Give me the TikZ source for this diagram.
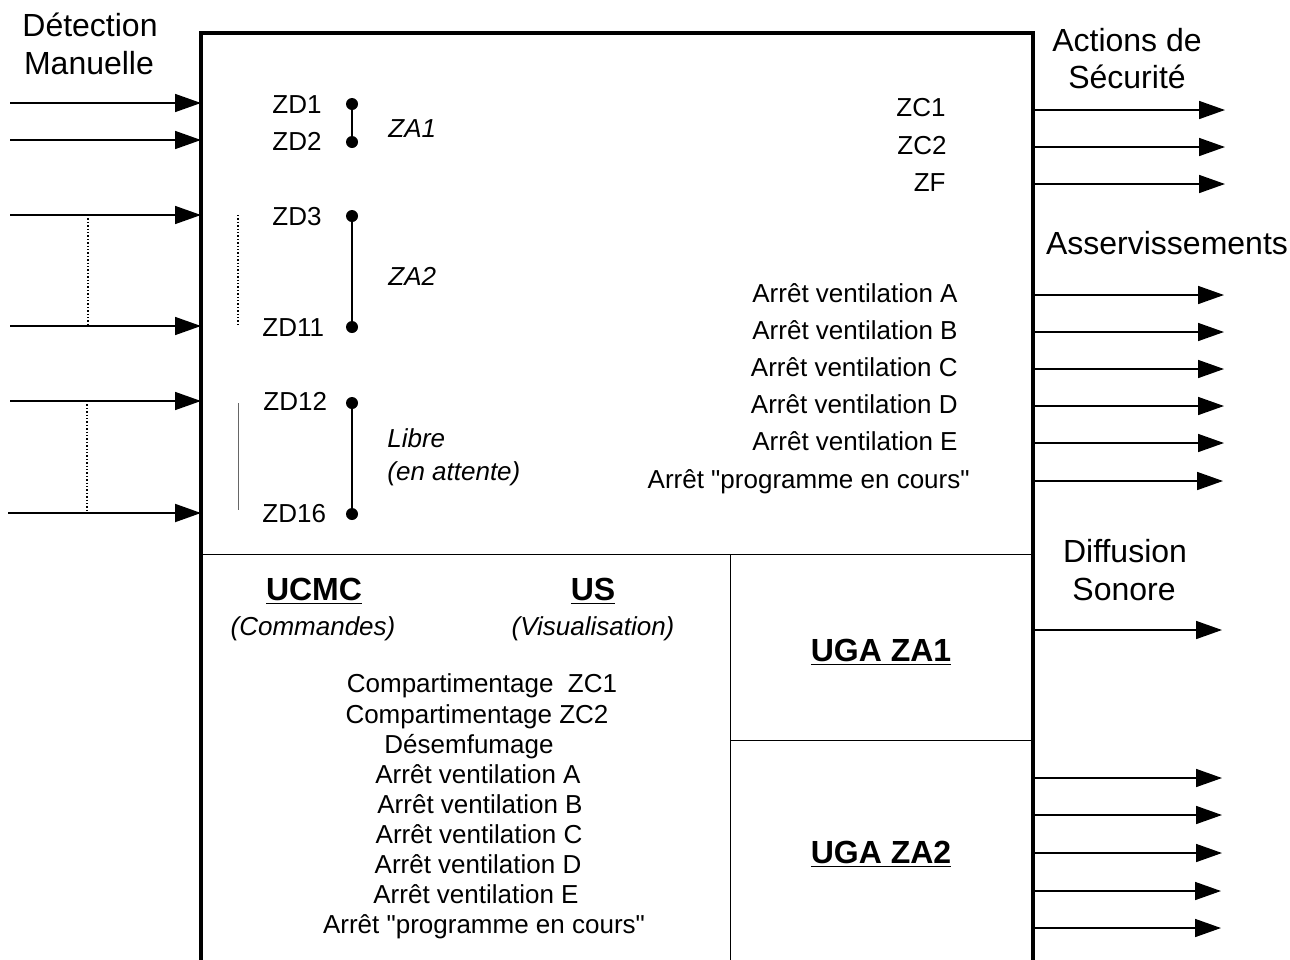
\documentclass[tikz,border=0pt]{standalone}
\usepackage{fontspec}
\setmainfont{Liberation Sans}[Ligatures=TeXOff]
\usetikzlibrary{arrows.meta}

\begin{document}
\begin{tikzpicture}
% Synoptique SSI, drawn on the pixel grid of the scan
\def\pxsz{0.5pt}
\providecommand{\ssiFrameWidth}{1.6pt}
\providecommand{\ssiSplitWidth}{0.5pt}
\providecommand{\ssiWireWidth}{0.8pt}
\providecommand{\ssiLinkWidth}{1pt}
\begin{scope}[x=\pxsz, y=-\pxsz, line join=miter,
  txt/.style={inner sep=0pt, font=\fontsize{13}{15}\selectfont, text height=9.3pt, text depth=0pt},
  ital/.style={txt, font=\fontsize{13}{15}\selectfont\itshape},
  head/.style={inner sep=0pt, font=\fontsize{16}{19}\selectfont, text height=11.5pt, text depth=0pt},
  unit/.style={head, font=\fontsize{16}{19}\selectfont\bfseries},
  dot/.style={circle, fill=black, inner sep=0pt, minimum size=6pt},
  wire/.style={line width=\ssiWireWidth, -{Triangle[length=13pt,width=9pt]}},
  frame/.style={line width=\ssiFrameWidth},
  split/.style={line width=\ssiSplitWidth}]
  % Page
  \useasboundingbox (0,0) rectangle (1290,959);
  \clip (0,0) rectangle (1290,959);
  % Outer frame
  \draw[frame] (201,970) -- (201,33) -- (1033,33) -- (1033,970);
  % Inner partitions
  \draw[split] (201,554) -- (1033,554);
  \draw[split] (730,554) -- (730,970);
  \draw[split] (730,740) -- (1033,740);
  % Headings
  \node[head] (detect) at (90,25) {Détection};
  \node[head] (manu) at (89,63) {Manuelle};
  \node[head] (actions) at (1127,40) {Actions de};
  \node[head] (secu) at (1127,77) {Sécurité};
  \node[head] (asserv) at (1167,243) {Asservissements};
  \node[head] (diff) at (1125,551) {Diffusion};
  \node[head] (sonore) at (1124,589) {Sonore};
  % Detection zones
  \node[txt, anchor=west] (zd1) at (272,104) {ZD1};
  \node[txt, anchor=west] (zd2) at (272,141) {ZD2};
  \node[txt, anchor=west] (zd3) at (272,216) {ZD3};
  \node[txt, anchor=west] (zd11) at (262,327) {ZD11};
  \node[txt, anchor=west] (zd12) at (263,401) {ZD12};
  \node[txt, anchor=west] (zd16) at (262,513) {ZD16};
  \node[dot] (p1) at (352,104) {};
  \node[dot] (p2) at (352,142) {};
  \node[dot] (p3) at (352,216) {};
  \node[dot] (p11) at (352,327) {};
  \node[dot] (p12) at (352,403) {};
  \node[dot] (p16) at (352,514) {};
  \draw[line width=\ssiLinkWidth] (p1) -- (p2);
  \draw[line width=\ssiLinkWidth] (p3) -- (p11);
  \draw[line width=\ssiLinkWidth] (p12) -- (p16);
  \node[ital, anchor=west] (za1) at (388,128) {ZA1};
  \node[ital, anchor=west] (za2) at (388,276) {ZA2};
  \node[ital, anchor=west] (libre) at (387,438) {Libre};
  \node[ital, anchor=west] (attente) at (387,471) {(en attente)};
  % Safety actions and interlocks
  \node[txt, anchor=east] (zc1) at (946,107) {ZC1};
  \node[txt, anchor=east] (zc2) at (947,145) {ZC2};
  \node[txt, anchor=east] (zf) at (946,182) {ZF};
  \node[txt, anchor=east] (ava) at (958,293) {Arrêt ventilation A};
  \node[txt, anchor=east] (avb) at (958,330) {Arrêt ventilation B};
  \node[txt, anchor=east] (avc) at (958,367) {Arrêt ventilation C};
  \node[txt, anchor=east] (avd) at (958,404) {Arrêt ventilation D};
  \node[txt, anchor=east] (ave) at (958,441) {Arrêt ventilation E};
  \node[txt, anchor=east] (apc) at (970,479) {Arrêt "programme en cours"};
  % Control and display units
  \node[unit] (ucmc) at (314,589) {\underline{UCMC}};
  \node[ital] (cmd) at (313,626) {(Commandes)};
  \node[unit] (us) at (593,589) {\underline{US}};
  \node[ital] (visu) at (593,626) {(Visualisation)};
  \node[txt] (cc1) at (482,683) {Compartimentage\ \ ZC1};
  \node[txt] (cc2) at (477,714) {Compartimentage ZC2};
  \node[txt] (desf) at (469,744) {Désemfumage};
  \node[txt] (cva) at (478,774) {Arrêt ventilation A};
  \node[txt] (cvb) at (480,804) {Arrêt ventilation B};
  \node[txt] (cvc) at (479,834) {Arrêt ventilation C};
  \node[txt] (cvd) at (478,864) {Arrêt ventilation D};
  \node[txt] (cve) at (476,894) {Arrêt ventilation E};
  \node[txt] (cpc) at (484,924) {Arrêt "programme en cours"};
  \node[unit] (uga1) at (881,650) {\underline{UGA ZA1}};
  \node[unit] (uga2) at (881,852) {\underline{UGA ZA2}};
  % Input wires
  \coordinate (dm1) at (10,103);  \coordinate (in1) at (201,103);
  \coordinate (dm2) at (10,140);  \coordinate (in2) at (201,140);
  \coordinate (dm3) at (10,215);  \coordinate (in3) at (201,215);
  \coordinate (dm11) at (10,326); \coordinate (in11) at (201,326);
  \coordinate (dm12) at (10,401); \coordinate (in12) at (201,401);
  \coordinate (dm16) at (8,513);  \coordinate (in16) at (201,513);
  \draw[wire] (dm1) -- (in1);
  \draw[wire] (dm2) -- (in2);
  \draw[wire] (dm3) -- (in3);
  \draw[wire] (dm11) -- (in11);
  \draw[wire] (dm12) -- (in12);
  \draw[wire, line width=1pt] (dm16) -- (in16);
  % Omitted zones
  \coordinate (gapa) at (88,215);  \coordinate (gapb) at (88,326);
  \coordinate (gapc) at (87,401);  \coordinate (gapd) at (87,513);
  \draw[densely dotted, line width=0.7pt] (gapa) -- (gapb);
  \draw[densely dotted, line width=0.7pt] (gapc) -- (gapd);
  \draw[densely dotted, line width=0.7pt] (238,215) -- (238,326);
  \draw[black!60, line width=0.4pt] (238,403) -- (238,510);
  % Output wires
  \coordinate (ozc1) at (1033,110); \coordinate (tzc1) at (1225,110);
  \coordinate (ozc2) at (1033,147); \coordinate (tzc2) at (1225,147);
  \coordinate (ozf) at (1033,184);  \coordinate (tzf) at (1225,184);
  \coordinate (oava) at (1033,295); \coordinate (tava) at (1224,295);
  \coordinate (oavb) at (1033,332); \coordinate (tavb) at (1224,332);
  \coordinate (oavc) at (1033,369); \coordinate (tavc) at (1224,369);
  \coordinate (oavd) at (1033,406); \coordinate (tavd) at (1224,406);
  \coordinate (oave) at (1033,443); \coordinate (tave) at (1224,443);
  \coordinate (oapc) at (1033,481); \coordinate (tapc) at (1223,481);
  \coordinate (ods) at (1033,630);  \coordinate (tds) at (1222,630);
  \coordinate (oz1) at (1033,778);  \coordinate (tz1) at (1222,778);
  \coordinate (oz2) at (1033,815);  \coordinate (tz2) at (1222,815);
  \coordinate (oz3) at (1033,853);  \coordinate (tz3) at (1222,853);
  \coordinate (oz4) at (1033,891);  \coordinate (tz4) at (1221,891);
  \coordinate (oz5) at (1033,928);  \coordinate (tz5) at (1221,928);
  \draw[wire] (ozc1) -- (tzc1);
  \draw[wire] (ozc2) -- (tzc2);
  \draw[wire] (ozf) -- (tzf);
  \draw[wire] (oava) -- (tava);
  \draw[wire] (oavb) -- (tavb);
  \draw[wire] (oavc) -- (tavc);
  \draw[wire] (oavd) -- (tavd);
  \draw[wire] (oave) -- (tave);
  \draw[wire] (oapc) -- (tapc);
  \draw[wire] (ods) -- (tds);
  \draw[wire] (oz1) -- (tz1);
  \draw[wire] (oz2) -- (tz2);
  \draw[wire] (oz3) -- (tz3);
  \draw[wire] (oz4) -- (tz4);
  \draw[wire] (oz5) -- (tz5);
\end{scope}
\end{tikzpicture}
\end{document}
